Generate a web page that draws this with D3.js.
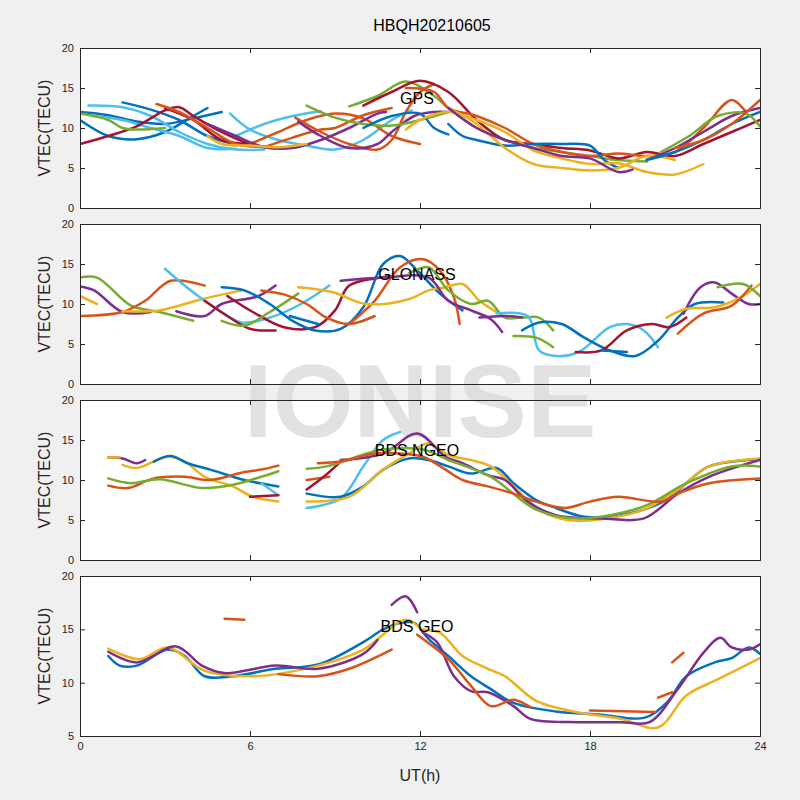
<!DOCTYPE html>
<html><head><meta charset="utf-8">
<script src="https://cdn.jsdelivr.net/npm/d3@7"></script>
<style>body{margin:0;background:#f0f0f0}</style></head>
<body><svg id="c" width="800" height="800"></svg>
<script>
const title = "HBQH20210605";
const panelNames = ["GPS","GLONASS","BDS NGEO","BDS GEO"];
const xTicks = [0,6,12,18,24];
const yDomains = [[0,20],[0,20],[0,20],[5,20]];
const yTicksList = [[0,5,10,15,20],[0,5,10,15,20],[0,5,10,15,20],[5,10,15,20]];
const colors = ["#0072BD","#D95319","#EDB120","#7E2F8E","#77AC30","#4DBEEE","#A2142F"];
// each segment: [colorIndex, [[UT, VTEC], ...]]
const gpsSeries = [
 [0,[[0,12],[1,11.6],[2,10.8],[3,10.5],[4,11.2],[5,12]]],
 [0,[[1.5,13.2],[2.5,12.3],[3.5,11],[4.5,9],[5.5,8],[7,7.5]]],
 [0,[[0,11],[1,9],[2,8.6],[3,9.5],[4,11.5],[4.5,12.5]]],
 [5,[[0.3,12.8],[1.5,12.6],[2.5,11.5],[3.5,9.5],[4.5,8],[5.5,7.3],[6.5,7.3]]],
 [5,[[0.5,11.5],[1.5,11],[2.5,10],[3.5,9],[4.5,7.5],[5.5,7.4]]],
 [5,[[5.5,9],[6.5,10.5],[7.5,11.5],[8.5,12.1]]],
 [5,[[5.3,11.8],[6,9.8],[7,8.5],[8,7.8],[9,7.3],[10,8.5],[11,11],[11.7,12.2]]],
 [6,[[0,8],[1,9],[2,10.2],[3,12.2],[3.5,12.6],[4,11.5],[5,9.5],[6,8],[7,7.5]]],
 [6,[[3,12.5],[4,11],[5,8.5],[6,8]]],
 [1,[[2.7,13],[3.5,12],[4.5,10],[5.5,8],[6.5,7.7]]],
 [1,[[6,8],[7,9.5],[8,11],[9,11.8],[10,11.2],[11,9],[12,8]]],
 [1,[[6.5,7.6],[7.5,8.8],[8.5,9.8],[9,10],[10,11.6],[11,12.5]]],
 [1,[[7.6,11.3],[8.5,9.5],[9.5,8],[10.5,7.3],[11,8.5],[11.5,12],[12,14.5],[12.5,15.5]]],
 [3,[[7.7,10.8],[8.5,9],[9.5,7.5],[10.5,8],[11,9.5],[11.8,11.5],[12.5,12],[13,12]]],
 [3,[[4.5,10.5],[5.5,9],[6.5,7.6],[7.5,7.5],[8.5,8.5],[9.5,10],[10.5,11.8],[10.8,12]]],
 [2,[[4.5,9],[5,8],[6,7.8],[7,7.6],[8,8]]],
 [4,[[0,11.8],[1,11],[1.5,10],[2,9.8],[3,10]]],
 [4,[[8,12.8],[9,11.3],[10,10.5],[11,10.3],[12,11],[13,12]]],
 [4,[[9.5,12.7],[10.5,14],[11.5,15.8],[12.5,14],[13,12.5],[14,10],[15,8.5],[16,7.5],[17,7],[18,6.5],[19,6],[20,5.8]]],
 [6,[[10,12.8],[11,14.5],[12,15.9],[13,14.5],[14,11],[15,8.5],[16,8],[17,7.5],[18,7.2],[19,6.2],[20,7],[21,6.5],[22,8],[23,9.5],[24,11]]],
 [1,[[11.5,15],[12.5,14.5],[13,12.5],[14,11.5],[15,10],[16,8],[17,7],[18,6.5],[19,6.8],[20,6.5],[21,7],[22,10],[23,13.5],[23.5,12]]],
 [0,[[10,10],[11,11.5],[12,11.8],[12.5,10],[13,9.2]]],
 [0,[[13,10.5],[13.5,9],[14,8.5],[15,7.8],[16,8],[17,8],[18,7.8],[18.5,6],[19,5]]],
 [2,[[11.5,9.8],[12,11],[13,12],[14,11],[15,9.5],[16,7.2],[17,6.2],[18,5.5],[19,5.6],[20,4.5],[21,4.2],[22,5.5]]],
 [2,[[13,12.5],[14,10.5],[15,7.5],[16,5.5],[17,5],[18,4.7],[19,5],[20,6.5],[21,6]]],
 [3,[[13,12.5],[14,10],[15,8.5],[16,7.5],[17,6.5],[18,6.2],[19,4.5],[19.5,4.8]]],
 [3,[[20,6],[21,7.5],[22,9.5],[23,11.5],[24,12.5]]],
 [0,[[20,6],[21,7],[22,8.5],[23,10.5],[24,12]]],
 [4,[[20.5,7],[21.5,9],[22.5,11.5],[23.5,11.8],[24,10.2]]],
 [1,[[21,7.5],[22,8.5],[23,10.5],[24,13.5]]]
];
const glonassSeries = [
 [4,[[0,13.3],[0.6,13.3],[1.8,9.8],[2.8,9],[4,7.9]]],
 [3,[[0,12.2],[0.5,11.7],[1.5,9],[2.5,9]]],
 [3,[[3.4,9.1],[4.4,8.5],[5,10],[6.3,11],[6.9,12.3]]],
 [2,[[0,11],[0.6,10]]],
 [1,[[0,8.5],[1.5,9],[2.3,10.4],[3.2,12.9],[4.4,12.3]]],
 [2,[[1.5,9.1],[2.8,9.2],[4.3,10.6],[5.7,11.7]]],
 [5,[[3,14.4],[3.8,12],[4.9,9.2],[5.7,7.7],[6.7,8.3],[7.8,10],[8.8,12.3]]],
 [6,[[4.4,10.4],[5.2,8.5],[6,6.9],[6.9,6.7]]],
 [6,[[5.2,11],[6.1,9],[7.2,7.1],[8.3,7.1],[9,9.2],[9.5,12.3],[10.6,13.3],[11,13.5]]],
 [4,[[5,7.9],[5.8,7.3],[6.7,9],[7.7,11.3]]],
 [0,[[5,12.1],[5.8,11.7],[6.7,10],[7.5,7.9],[8.3,6.7],[9.2,6.9],[10,9.6],[10.7,15],[11.3,16],[11.9,14.2],[12.7,11.3],[13.5,9.2]]],
 [0,[[7.4,8.5],[8.4,7.5]]],
 [1,[[6.4,11.7],[7.2,11.2],[8,10],[8.7,8.3],[9.5,7.5],[10.4,8.5]]],
 [1,[[9.5,7.5],[10.4,10.4],[11.3,14.6],[12.1,15.6],[12.7,14.2],[13.2,10.8],[13.4,7.5]]],
 [2,[[7.7,12.1],[8.9,11.5],[10.1,10],[11.6,10.6],[12.3,11.7],[12.9,12.1],[13.5,12.5],[14.1,10.4],[14.7,9]]],
 [3,[[9.2,12.9],[10.7,13.3],[12.3,13.3],[13,10.4],[13.8,9.2],[14.5,8.1],[14.9,6.5]]],
 [4,[[11.6,13.8],[12.3,14.6],[13,11.7],[13.8,10],[14.4,10.4],[15,8.3],[15.6,8.3],[16.2,8.3],[16.7,6.7]]],
 [3,[[14.1,8.3],[15,8.5],[15.6,8.3]]],
 [5,[[14.7,8.8],[15.8,8.5],[16.2,4.2],[16.8,3.5],[17.6,4],[18.7,7.1],[19.3,7.5],[19.9,6.7],[20.4,4.6]]],
 [0,[[15.6,6.7],[16.2,7.7],[17,7.5],[17.8,5.8],[18.7,4.2],[19.6,3.5],[20.4,5.4],[21.1,8.3],[21.7,10],[22.7,10.2]]],
 [4,[[15.3,6],[16.1,5.8],[16.7,4.6]]],
 [6,[[17.5,4],[18.4,4.2],[19.3,6.7],[20.2,7.5],[20.8,7.1],[21.4,8.3]]],
 [0,[[18.4,4.2],[19.3,4]]],
 [3,[[21.3,8.8],[21.9,12.1],[22.4,12.7],[23,11.3],[23.6,10],[24,10]]],
 [2,[[20.7,8.3],[21.4,9.4],[22.4,9.6],[23.3,10.8],[24,12.5]]],
 [1,[[21.1,6.3],[22,8.8],[23,9.8],[23.7,12.3]]],
 [4,[[22.5,12.1],[23.4,12.5],[24,11]]]
];
const bdsNgeoSeries = [
 [3,[[1,12.8],[1.5,12.7],[2,12.1],[2.3,12.5]]],
 [2,[[1,12.8],[1.4,12.8]]],
 [2,[[1.5,11.9],[2,11.5],[2.6,12.3],[3.1,12.9],[3.7,12.3],[4.4,10.4],[5.4,9.2],[6.1,7.9],[7,7.3]]],
 [0,[[2.6,12.3],[3.2,13],[3.8,12.1],[4.6,11.3],[5.8,10],[7,9.2]]],
 [5,[[6.4,9.6],[7,8.1]]],
 [1,[[1,9.3],[1.7,9],[2.6,10.2],[3.7,10.4],[4.6,10],[5.8,11],[6.4,11.3],[7,11.8]]],
 [4,[[1,10.2],[1.8,9.6],[2.8,10.1],[4.3,9],[5.4,9.4],[6.4,10.4],[7,11.1]]],
 [6,[[6,7.9],[7,8.1]]],
 [1,[[8,10],[8.8,10.4]]],
 [6,[[8,8.8],[8.6,10.4],[9.2,12.3]]],
 [5,[[8,6.5],[9.2,7.7],[10,11.7],[10.7,15],[11.3,16]]],
 [0,[[8,8.3],[9.2,7.9],[10,9.2],[10.7,11.3],[11.6,12.7],[12.3,12.5],[13,11.7],[13.8,10.8],[14.7,11.5],[15.3,9.6],[16.1,7.5],[16.8,6.5],[17.8,5.4],[19.1,5.6],[20.7,7.5],[21.4,9.6],[22.2,11.7],[24,12.6]]],
 [2,[[8,7.3],[9.5,7.9],[10.7,11.3],[11.6,13.3],[12.3,14.6],[13,13.1],[13.8,12.5],[14.5,11.7],[15.3,9.2],[16.2,6.3],[17.2,5],[18.4,5.1],[19.9,6.3],[21.1,8.8],[22.2,11.7],[24,12.7]]],
 [3,[[9.2,12.5],[10.7,13.3],[11.9,15.8],[12.9,12.9],[13.5,12.1],[14.4,10.6],[15,10],[15.8,7.3],[16.8,5.6],[18.4,5.2],[19.9,5.2],[21.1,8.3],[22.2,10.4],[24,12.5]]],
 [4,[[8,11.4],[8.7,11.7],[10.7,13.8],[12.1,13.8],[13,12.5],[14.5,10.4],[16.1,6.3],[17.6,5.2],[19.9,6.7],[21.4,9.6],[23,11.7],[24,11.7]]],
 [1,[[8.4,12.1],[9.2,12.3],[10.4,13.3],[11.3,13.3],[12.1,12.9],[12.9,11.3],[13.5,10],[14.4,9.2],[15.3,8.3],[16.1,7.3],[17.1,6.5],[18,7.3],[19,7.9],[20.5,7.3],[21.1,8.3],[22.2,9.6],[24,10.2]]]
];
const bdsGeoSeries = [
 [0,[[1,12.5],[1.4,11.6],[2,11.6],[3.1,13.1],[3.7,12.5],[4.4,10.6],[5.4,10.6],[6.9,11.3],[8.4,11.7],[10,13.8],[10.7,15],[11.3,15.6],[11.8,15.6],[12.3,14.1],[13,12.5],[13.8,10.6],[14.5,9.4],[15.3,8.1],[16.8,7.3],[18.4,7],[19.9,6.7],[20.7,8.1],[21.4,10.6],[22.4,11.9],[23,12.3],[23.6,13.3],[24,12.7]]],
 [2,[[1,13.2],[2.1,12.2],[3.1,13.3],[4.4,11.1],[6.1,10.6],[8.4,11.6],[10,13.1],[11.5,15.9],[12.1,15],[12.7,14.7],[13.5,12.5],[14.4,11.3],[15,10.6],[16.1,8.3],[17.6,7.2],[19.1,6.6],[20.4,5.8],[21.4,8.8],[22.5,10.3],[24,12.3]]],
 [3,[[1,12.9],[2,11.9],[3.4,13.4],[4.3,11.6],[5.1,10.9],[6.9,11.6],[8.4,11.3],[10,12.7],[10.5,14]]],
 [3,[[11,17.3],[11.5,18.1],[11.9,16.6]]],
 [3,[[12.1,14.7],[12.6,13.8],[13.2,10.6],[13.8,9.2],[14.4,9.1],[15.3,7.8],[15.9,6.6],[17.6,6.3],[19.1,6.3],[20.1,6.3],[21.1,9.4],[22,12.8],[22.6,14.2],[23,13.3],[23.6,13.1],[24,13.6]]],
 [1,[[7,10.8],[8.4,10.6],[9.5,11.3],[11,13.1]]],
 [1,[[11.9,14.5],[13,12.2],[13.8,9.7],[14.5,7.8],[15.3,8.4],[15.9,7.7]]],
 [1,[[18,7.4],[20.3,7.25]]],
 [1,[[20.4,8.6],[20.9,9.1]]],
 [1,[[20.9,11.9],[21.3,12.8]]],
 [1,[[5.1,16],[5.8,15.9]]]
];
const seriesByPanel = [gpsSeries, glonassSeries, bdsNgeoSeries, bdsGeoSeries];

const svg = d3.select("#c");
const L=80, R=760, W=R-L, H=160, tops=[48,224,400,576];
const x = d3.scaleLinear().domain([0,24]).range([L,R]);
svg.append("text").attr("x",432).attr("y",31).attr("text-anchor","middle")
 .attr("font-family","Liberation Sans, Arial").attr("font-size",16).text(title);

tops.forEach((t,i)=>{
  svg.append("rect").attr("x",L).attr("y",t).attr("width",W).attr("height",H).attr("fill","#fff");
});
svg.append("text").attr("x",420).attr("y",437).attr("text-anchor","middle")
 .attr("font-family","Liberation Sans, Arial").attr("font-weight","bold").attr("font-size",104)
 .attr("fill","#dcdcdc").attr("opacity",0.8).text("IONISE");

tops.forEach((t,i)=>{
  const y = d3.scaleLinear().domain(yDomains[i]).range([t+H,t]);
  const g = svg.append("g");
  const clipId="cp"+i;
  svg.append("clipPath").attr("id",clipId).append("rect").attr("x",L).attr("y",t).attr("width",W).attr("height",H);
  const line = d3.line().x(d=>x(d[0])).y(d=>y(d[1])).curve(d3.curveCatmullRom);
  const lg = g.append("g").attr("clip-path",`url(#${clipId})`);
  seriesByPanel[i].forEach(s=>{
    lg.append("path").attr("d",line(s[1])).attr("fill","none")
      .attr("stroke",colors[s[0]]).attr("stroke-width",2.5).attr("stroke-linejoin","round").attr("stroke-linecap","round");
  });
  g.append("text").attr("x",417).attr("y",t+56).attr("text-anchor","middle")
   .attr("font-family","Liberation Sans, Arial").attr("font-size",16).text(panelNames[i]);
  const ax = g.append("g").attr("transform",`translate(0,${t+H})`)
   .call(d3.axisBottom(x).tickValues(xTicks).tickSize(-5).tickPadding(6).tickFormat(i===3?d3.format("d"):""));
  const axTop = g.append("g").attr("transform",`translate(0,${t})`)
   .call(d3.axisTop(x).tickValues(xTicks).tickSize(-5).tickFormat(""));
  const ay = g.append("g").attr("transform",`translate(${L},0)`)
   .call(d3.axisLeft(y).tickValues(yTicksList[i]).tickSize(-5).tickPadding(6));
  const ayR = g.append("g").attr("transform",`translate(${R},0)`)
   .call(d3.axisRight(y).tickValues(yTicksList[i]).tickSize(-5).tickFormat(""));
  [ax,axTop,ay,ayR].forEach(a=>{
    a.selectAll("path,line").attr("stroke","#262626");
    a.selectAll("text").attr("font-family","Liberation Sans, Arial").attr("font-size",11).attr("fill","#262626");
  });
  g.append("text").attr("transform",`translate(50,${t+H/2}) rotate(-90)`).attr("text-anchor","middle")
   .attr("font-family","Liberation Sans, Arial").attr("font-size",16).attr("fill","#262626").text("VTEC(TECU)");
});
svg.append("text").attr("x",420).attr("y",781).attr("text-anchor","middle")
 .attr("font-family","Liberation Sans, Arial").attr("font-size",16).attr("fill","#262626").text("UT(h)");
</script></body></html>
